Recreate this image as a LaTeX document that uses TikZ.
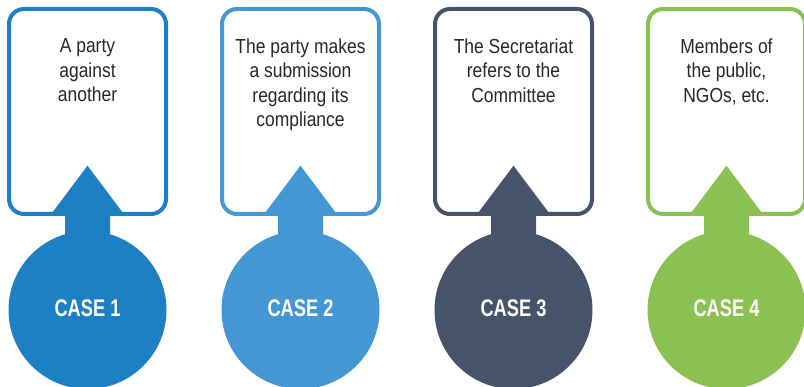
\documentclass[tikz,border=0pt]{standalone}
\usepackage{fontspec}
\setmainfont{Liberation Sans}
\newfontfamily\toptextfont[FakeStretch=0.86]{Liberation Sans}
\newfontfamily\casefont[FakeStretch=0.76]{Liberation Sans}
\definecolor{cOne}{RGB}{30,128,196}
\definecolor{cTwo}{RGB}{68,151,210}
\definecolor{cThree}{RGB}{69,84,106}
\definecolor{cFour}{RGB}{139,193,82}
\definecolor{txt}{RGB}{40,40,40}
\tikzset{
  panelbox/.style={draw, line width=4pt, rounded corners=15pt, fill=white},
  toptext/.style={anchor=north, align=center, text=txt, font=\toptextfont\fontsize{20.3}{24.5}\selectfont, inner sep=0pt},
  casetext/.style={text=white, font=\casefont\bfseries\fontsize{24}{26}\selectfont, inner sep=0pt},
  casecircle/.style={circle, minimum size=158pt, inner sep=0pt},
}
\newcommand{\panel}[4]{% #1 center x, #2 colour, #3 text, #4 case label
  \begin{scope}[xshift=#1pt]
    \draw[panelbox, draw=#2] (-78.5,9) rectangle (78.5,214);
    \node[toptext] (t#4) at (0,38.5) {#3};
    \node[casecircle, fill=#2] (c#4) at (0,310) {};
    \fill[#2] (0,165.7) -- (35.3,212.7) -- (22.5,212.7) -- (22.5,260) -- (-22.5,260) -- (-22.5,212.7) -- (-35.3,212.7) -- cycle;
    \node[casetext] (l#4) at (0,308) {CASE #4};
  \end{scope}}
\begin{document}
\begin{tikzpicture}[x=1pt,y=-1pt]
  \useasboundingbox (0,0) rectangle (804,387);
  \begin{scope}
    \clip (0,0) rectangle (804,387);
    \panel{87.5}{cOne}{A party\\against\\another}{1}
    \panel{300.5}{cTwo}{The party makes\\a submission\\regarding its\\compliance}{2}
    \panel{513.5}{cThree}{The Secretariat\\refers to the\\Committee}{3}
    \panel{726.5}{cFour}{Members of\\the public,\\NGOs, etc.}{4}
  \end{scope}
\end{tikzpicture}
\end{document}
